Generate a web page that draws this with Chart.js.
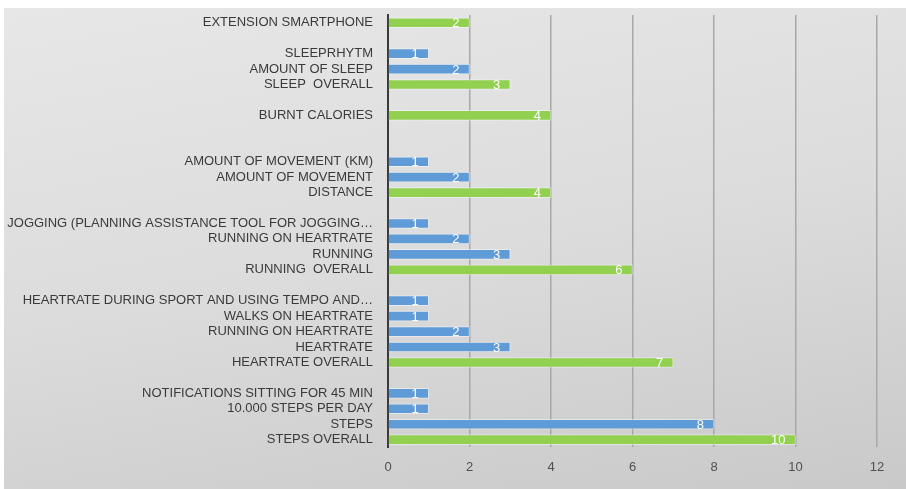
<!DOCTYPE html>
<html>
<head>
<meta charset="utf-8">
<script src="https://cdn.jsdelivr.net/npm/chart.js@4"></script>
<style>
  html, body { margin: 0; padding: 0; background: #fff; }
  #wrap {
    position: absolute; left: 4px; top: 8px; width: 902px; height: 481px;
    background: linear-gradient(170deg, #e7e7e7 0%, #dcdcdc 50%, #c9c9c9 100%);
  }
</style>
</head>
<body>
<div id="wrap"><canvas id="chart" width="902" height="481"></canvas></div>
<script>
// 카테고리 (위에서 아래로, 빈 줄은 그룹 간격)
const categories = [
  'EXTENSION SMARTPHONE', '',
  'SLEEPRHYTM', 'AMOUNT OF SLEEP', 'SLEEP  OVERALL', '',
  'BURNT CALORIES', '', '',
  'AMOUNT OF MOVEMENT (KM)', 'AMOUNT OF MOVEMENT', 'DISTANCE', '',
  'JOGGING (PLANNING ASSISTANCE TOOL FOR JOGGING…', 'RUNNING ON HEARTRATE', 'RUNNING', 'RUNNING  OVERALL', '',
  'HEARTRATE DURING SPORT AND USING TEMPO AND…', 'WALKS ON HEARTRATE', 'RUNNING ON HEARTRATE', 'HEARTRATE', 'HEARTRATE OVERALL', '',
  'NOTIFICATIONS SITTING FOR 45 MIN', '10.000 STEPS PER DAY', 'STEPS', 'STEPS OVERALL',
];

// 그룹 합계 (초록)
const overallValues = [
  2, null,
  null, null, 3, null,
  4, null, null,
  null, null, 4, null,
  null, null, null, 6, null,
  null, null, null, null, 7, null,
  null, null, null, 10,
];

// 세부 항목 (파랑)
const detailValues = [
  null, null,
  1, 2, null, null,
  null, null, null,
  1, 2, null, null,
  1, 2, 3, null, null,
  1, 1, 2, 3, null, null,
  1, 1, 8, null,
];

const xTicks = [0, 2, 4, 6, 8, 10, 12];

// 막대 끝 안쪽 값 라벨
const barLabels = {
  id: 'barLabels',
  afterDatasetsDraw(chart) {
    const ctx = chart.ctx;
    ctx.save();
    ctx.fillStyle = '#ffffff';
    ctx.font = '13px "Liberation Sans", Arial, sans-serif';
    ctx.textAlign = 'right';
    ctx.textBaseline = 'middle';
    chart.data.datasets.forEach((ds, i) => {
      chart.getDatasetMeta(i).data.forEach((el, j) => {
        const v = ds.data[j];
        if (v == null) return;
        ctx.fillText(String(v), el.x - 10, el.y + 1);
      });
    });
    ctx.restore();
  },
};

new Chart(document.getElementById('chart'), {
  type: 'bar',
  data: {
    labels: categories,
    datasets: [
      { label: 'overall', data: overallValues, backgroundColor: '#92d050', borderColor: 'rgba(255,255,255,0.45)', borderWidth: 1, barThickness: 10 },
      { label: 'detail', data: detailValues, backgroundColor: '#5f9bd6', borderColor: 'rgba(255,255,255,0.45)', borderWidth: 1, barThickness: 10 },
    ],
  },
  options: {
    indexAxis: 'y',
    responsive: false,
    animation: false,
    layout: { padding: { top: 7, right: 29, bottom: 2, left: 0 } },
    plugins: { legend: { display: false }, tooltip: { enabled: false } },
    scales: {
      x: {
        stacked: true,
        min: 0, max: 12,
        afterBuildTicks: (s) => { s.ticks = xTicks.map((v) => ({ value: v })); },
        grid: { color: '#a8a8a8', lineWidth: 1.5, drawTicks: false },
        border: { display: false },
        ticks: { padding: 12, color: '#505050', font: { family: '"Liberation Sans", Arial, sans-serif', size: 13 } },
      },
      y: {
        stacked: true,
        afterFit: (s) => { s.width = 384; s.paddingTop = 0; s.paddingBottom = 0; },
        grid: { display: false, drawTicks: false },
        border: { color: '#3a3a3a', width: 2 },
        ticks: { padding: 15, autoSkip: false, color: '#3a3a3a', font: { family: '"Liberation Sans", Arial, sans-serif', size: 13 } },
      },
    },
  },
  plugins: [barLabels],
});
</script>
</body>
</html>
